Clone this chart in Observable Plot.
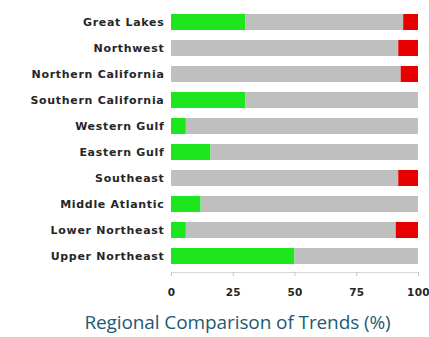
<!DOCTYPE html>
<html>
<head>
<meta charset="utf-8">
<script src="https://cdn.jsdelivr.net/npm/d3@7"></script>
<script src="https://cdn.jsdelivr.net/npm/@observablehq/plot@0.6"></script>
<style>
  html, body { margin: 0; padding: 0; background: #fff; }
  #chart { width: 429px; }
  .caption { font-family: "Open Sans", sans-serif; font-size: 19px; color: #1e5a73; text-align: center; padding-left: 46px; margin-top: 6px; line-height: 22px; white-space: nowrap; letter-spacing: -0.1px; }
  g[aria-label="y-axis tick label"] text { letter-spacing: 0.7px; }
  g[aria-label="x-axis tick label"] text { letter-spacing: 0.3px; }
</style>
</head>
<body>
<div id="chart"></div>
<div class="caption">Regional Comparison of Trends (%)</div>
<script>
const regions = ["Great Lakes","Northwest","Northern California","Southern California","Western Gulf","Eastern Gulf","Southeast","Middle Atlantic","Lower Northeast","Upper Northeast"];
const increasing = [30, 0, 0, 30, 6, 16, 0, 12, 6, 50];
const decreasing = [6, 8, 7, 0, 0, 0, 8, 0, 9, 0];
const categories = ["Increasing", "Stable", "Decreasing"];
const colors = ["#1ee61e", "#bfbfbf", "#e60000"];
const xTicks = [0, 25, 50, 75, 100];

const rows = [];
regions.forEach((r, i) => {
  const inc = increasing[i], dec = decreasing[i];
  rows.push({region: r, cat: "Increasing", value: inc});
  rows.push({region: r, cat: "Stable", value: 100 - inc - dec});
  rows.push({region: r, cat: "Decreasing", value: dec});
});

const plot = Plot.plot({
  width: 429,
  height: 305,
  marginLeft: 171,
  marginRight: 11,
  marginTop: 7,
  marginBottom: 33,
  style: {fontFamily: "'DejaVu Sans', sans-serif", color: "#262626", background: "#fff"},
  x: {domain: [0, 100]},
  y: {domain: regions, paddingInner: 0.38, paddingOuter: 0.19},
  color: {domain: categories, range: colors},
  marks: [
    Plot.barX(rows, Plot.stackX({y: "region", x: "value", fill: "cat", order: categories})),
    Plot.frame({anchor: "bottom", stroke: "#d8d8d8"}),
    Plot.axisY({tickSize: 0, tickPadding: 7, label: null, fontSize: 11, fontWeight: "bold"}),
    Plot.axisX({ticks: xTicks, tickSize: 4, tickPadding: 12, label: null, fontSize: 10.5, fontWeight: "bold", stroke: "#c8c8c8"})
  ]
});
document.getElementById("chart").append(plot);
</script>
</body>
</html>
